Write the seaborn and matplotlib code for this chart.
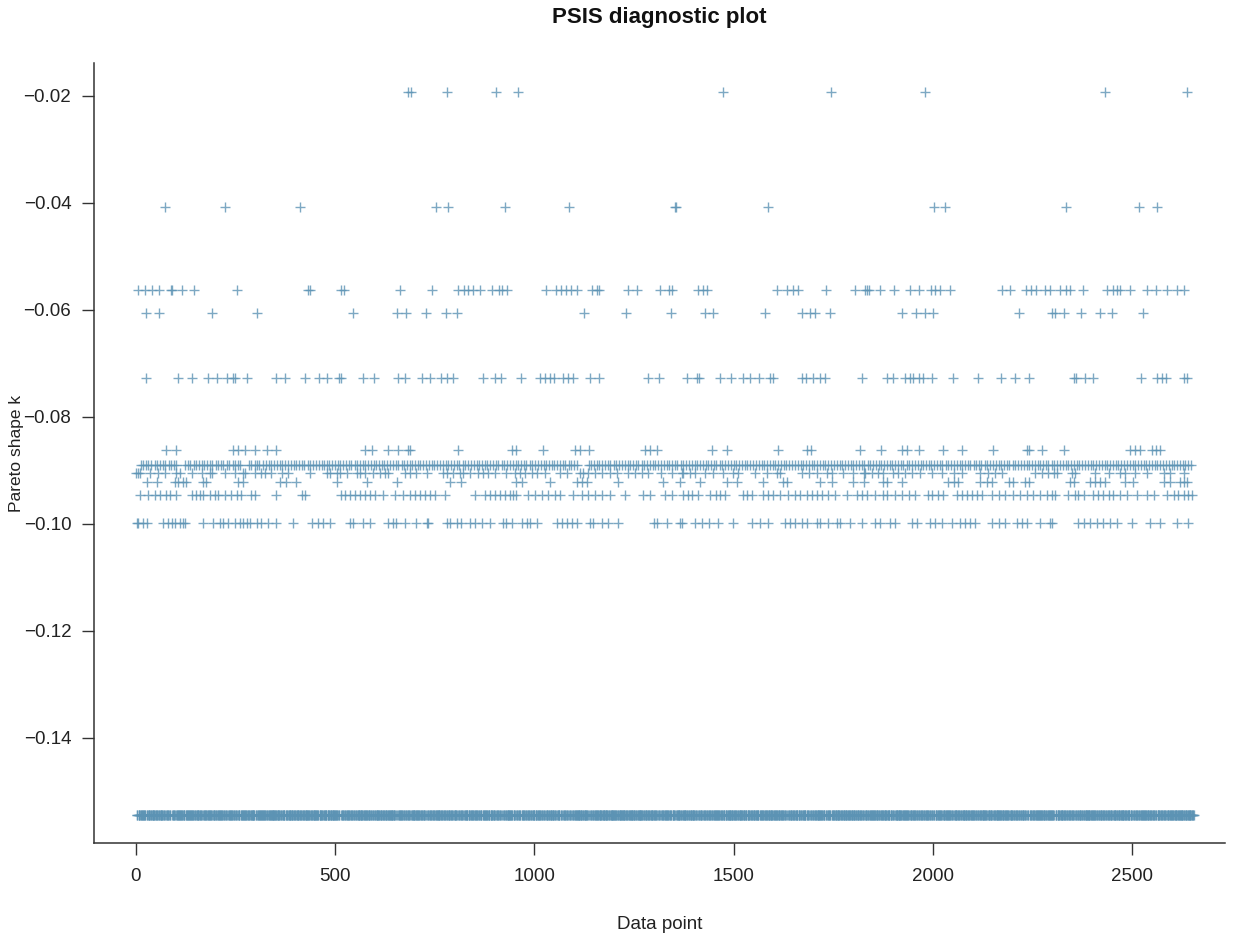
import numpy as np
import pandas as pd
import matplotlib
matplotlib.use("Agg")
import matplotlib.pyplot as plt
import seaborn as sns

# number of observations (x axis = data point index)
n_points = 2654

# Pareto k-hat levels
k_levels = [-0.0194, -0.0409, -0.0564, -0.0606, -0.0727, -0.0862,
            -0.0890, -0.0906, -0.0923, -0.0946, -0.0998]
k_lowest = -0.1544

# data point positions for each k level (everything else sits at k_lowest)
pts_0194 = [683, 690, 780, 903, 958, 1474, 1744, 1979, 2432, 2637]
pts_0409 = [73, 225, 413, 752, 784, 926, 1088, 1352, 1356, 1587, 2004, 2031,
            2333, 2516, 2562]
pts_0564 = [6, 23, 41, 58, 88, 92, 117, 146, 255, 431, 437, 514, 523, 664, 743,
            809, 823, 834, 846, 863, 893, 912, 920, 931, 1028, 1054, 1066, 1079,
            1092, 1106, 1144, 1157, 1162, 1236, 1257, 1315, 1339, 1345, 1411,
            1424, 1434, 1608, 1635, 1648, 1662, 1732, 1805, 1830, 1834, 1840,
            1867, 1903, 1943, 1964, 1996, 2006, 2018, 2043, 2173, 2194, 2234,
            2246, 2259, 2282, 2294, 2319, 2334, 2344, 2376, 2436, 2453, 2461,
            2470, 2495, 2537, 2560, 2587, 2612, 2629]
pts_0606 = [25, 58, 192, 305, 544, 656, 679, 728, 778, 805, 1125, 1229, 1342,
            1428, 1449, 1579, 1671, 1692, 1704, 1742, 1922, 1958, 1980, 2001,
            2217, 2298, 2306, 2328, 2372, 2420, 2449, 2527]
pts_0727 = [25, 106, 140, 181, 203, 228, 244, 248, 280, 353, 374, 424, 460, 479,
            510, 514, 571, 597, 658, 675, 717, 738, 767, 780, 795, 872, 901, 916,
            966, 1014, 1027, 1039, 1050, 1073, 1085, 1098, 1140, 1162, 1286,
            1313, 1382, 1407, 1414, 1466, 1493, 1524, 1541, 1564, 1591, 1600,
            1671, 1682, 1700, 1717, 1729, 1822, 1884, 1901, 1930, 1943, 1951,
            1964, 1976, 1997, 2051, 2114, 2171, 2205, 2242, 2353, 2359, 2382,
            2403, 2522, 2562, 2574, 2585, 2629, 2637]
pts_0862 = [75, 102, 244, 257, 274, 300, 328, 353, 575, 592, 633, 658, 683, 688,
            809, 943, 953, 1022, 1102, 1114, 1137, 1278, 1290, 1309, 1447, 1483,
            1612, 1683, 1693, 1817, 1871, 1922, 1934, 1964, 2026, 2072, 2152,
            2235, 2240, 2273, 2328, 2495, 2507, 2520, 2549, 2560, 2570]
pts_0890 = [12, 18, 26, 31, 39, 47, 52, 60, 67, 74, 83, 89, 96, 101, 124, 131,
            136, 145, 150, 158, 166, 171, 179, 186, 192, 200, 207, 214, 220, 229,
            235, 243, 250, 257, 262, 284, 290, 298, 305, 310, 318, 327, 333, 340,
            346, 355, 361, 368, 375, 381, 389, 396, 402, 410, 417, 423, 431, 438,
            444, 452, 459, 466, 472, 480, 485, 493, 500, 507, 513, 521, 528, 534,
            541, 549, 556, 562, 569, 575, 583, 590, 597, 603, 611, 618, 624, 631,
            638, 646, 652, 659, 667, 672, 680, 687, 694, 700, 708, 714, 721, 729,
            735, 742, 749, 757, 763, 770, 778, 784, 791, 799, 806, 812, 820, 827,
            833, 841, 848, 855, 861, 869, 876, 882, 889, 897, 904, 910, 918, 925,
            931, 939, 946, 953, 959, 967, 974, 980, 988, 995, 1001, 1009, 1016,
            1023, 1029, 1037, 1044, 1050, 1058, 1065, 1072, 1078, 1086, 1093,
            1100, 1106, 1136, 1142, 1150, 1157, 1163, 1171, 1178, 1185, 1191,
            1199, 1206, 1212, 1220, 1227, 1234, 1240, 1248, 1255, 1261, 1269,
            1276, 1283, 1289, 1297, 1304, 1310, 1318, 1325, 1332, 1338, 1346,
            1353, 1359, 1367, 1374, 1381, 1387, 1395, 1402, 1408, 1416, 1423,
            1430, 1436, 1444, 1451, 1457, 1465, 1472, 1479, 1485, 1493, 1500,
            1506, 1514, 1521, 1528, 1534, 1542, 1549, 1555, 1563, 1570, 1577,
            1583, 1591, 1598, 1604, 1612, 1619, 1626, 1632, 1640, 1647, 1653,
            1661, 1668, 1675, 1681, 1689, 1696, 1702, 1710, 1717, 1724, 1730,
            1738, 1745, 1751, 1759, 1766, 1773, 1779, 1787, 1794, 1800, 1808,
            1815, 1822, 1828, 1836, 1843, 1849, 1857, 1864, 1871, 1877, 1885,
            1892, 1898, 1906, 1913, 1920, 1926, 1934, 1941, 1947, 1955, 1962,
            1969, 1975, 1983, 1990, 1996, 2004, 2011, 2018, 2024, 2032, 2039,
            2045, 2053, 2060, 2067, 2073, 2081, 2088, 2094, 2102, 2109, 2116,
            2122, 2130, 2137, 2143, 2151, 2158, 2165, 2171, 2179, 2186, 2192,
            2200, 2207, 2214, 2220, 2228, 2235, 2241, 2249, 2256, 2263, 2269,
            2277, 2284, 2290, 2298, 2305, 2312, 2318, 2326, 2333, 2339, 2347,
            2354, 2361, 2367, 2375, 2382, 2388, 2396, 2403, 2410, 2416, 2424,
            2431, 2437, 2445, 2452, 2459, 2465, 2473, 2480, 2486, 2494, 2501,
            2508, 2514, 2522, 2529, 2535, 2543, 2550, 2557, 2563, 2571, 2578,
            2584, 2592, 2599, 2606, 2612, 2620, 2627, 2633, 2641, 2648]
pts_0906 = [1, 5, 10, 35, 56, 73, 102, 110, 140, 165, 186, 190, 223, 248, 269,
            274, 299, 315, 324, 340, 366, 382, 437, 479, 487, 504, 512, 529, 554,
            562, 575, 596, 612, 625, 633, 675, 688, 704, 730, 771, 780, 797, 813,
            822, 838, 859, 872, 884, 901, 930, 951, 964, 976, 993, 1006, 1027,
            1064, 1081, 1114, 1123, 1135, 1152, 1169, 1190, 1207, 1236, 1253,
            1269, 1286, 1319, 1345, 1370, 1374, 1391, 1403, 1428, 1449, 1474,
            1499, 1512, 1554, 1583, 1608, 1616, 1671, 1688, 1708, 1734, 1746,
            1775, 1800, 1826, 1830, 1847, 1863, 1876, 1901, 1913, 1930, 1947,
            1968, 1997, 2022, 2052, 2072, 2118, 2139, 2156, 2173, 2257, 2273,
            2290, 2303, 2311, 2349, 2357, 2407, 2441, 2470, 2482, 2507, 2537,
            2579, 2595, 2629]
pts_0923 = [27, 52, 98, 106, 119, 127, 169, 177, 257, 269, 362, 378, 403, 504,
            579, 656, 788, 817, 953, 968, 1039, 1106, 1119, 1131, 1211, 1324,
            1365, 1416, 1483, 1508, 1575, 1625, 1633, 1717, 1746, 1800, 1826,
            1876, 1884, 1922, 2039, 2052, 2064, 2118, 2135, 2148, 2190, 2202,
            2231, 2240, 2344, 2353, 2395, 2407, 2420, 2432, 2482, 2503, 2579,
            2595, 2620, 2629, 2637]
pts_0946 = [10, 31, 48, 60, 77, 85, 102, 140, 152, 161, 169, 186, 198, 207, 223,
            240, 253, 265, 290, 299, 353, 416, 424, 516, 525, 537, 550, 562, 575,
            587, 600, 621, 650, 671, 688, 700, 713, 725, 738, 750, 775, 851, 876,
            888, 901, 914, 926, 939, 947, 955, 985, 1002, 1018, 1035, 1052, 1064,
            1098, 1119, 1135, 1152, 1169, 1190, 1227, 1273, 1290, 1328, 1345,
            1374, 1386, 1395, 1411, 1441, 1457, 1466, 1478, 1524, 1533, 1545,
            1575, 1587, 1600, 1616, 1637, 1654, 1667, 1683, 1696, 1708, 1721,
            1738, 1754, 1784, 1809, 1821, 1834, 1855, 1876, 1884, 1905, 1922,
            1939, 1955, 1989, 1997, 2014, 2026, 2060, 2072, 2085, 2098, 2110,
            2123, 2148, 2165, 2181, 2202, 2219, 2236, 2252, 2269, 2286, 2298,
            2307, 2340, 2357, 2365, 2378, 2403, 2415, 2428, 2441, 2453, 2470,
            2487, 2512, 2537, 2554, 2587, 2604, 2616, 2629, 2641, 2650]
pts_0998 = [3, 6, 18, 27, 69, 81, 90, 98, 110, 119, 123, 169, 194, 211, 219, 232,
            248, 261, 269, 278, 286, 303, 315, 332, 353, 395, 441, 458, 469, 487,
            537, 545, 571, 587, 633, 646, 654, 675, 704, 730, 734, 780, 788, 805,
            817, 838, 851, 868, 889, 922, 930, 943, 968, 981, 989, 1006, 1056,
            1069, 1081, 1094, 1106, 1140, 1148, 1169, 1186, 1211, 1299, 1307,
            1332, 1365, 1370, 1403, 1420, 1437, 1462, 1499, 1545, 1566, 1587,
            1629, 1642, 1654, 1671, 1683, 1708, 1717, 1738, 1759, 1767, 1792,
            1821, 1855, 1867, 1893, 1905, 1947, 1960, 1993, 2005, 2022, 2047,
            2068, 2081, 2093, 2106, 2148, 2165, 2181, 2210, 2223, 2236, 2269,
            2294, 2298, 2365, 2378, 2395, 2411, 2428, 2445, 2461, 2499, 2545,
            2570, 2612, 2641]

x_ticks = [0, 500, 1000, 1500, 2000, 2500]
y_ticks = [-0.14, -0.12, -0.10, -0.08, -0.06, -0.04, -0.02]

level_points = [pts_0194, pts_0409, pts_0564, pts_0606, pts_0727, pts_0862,
                pts_0890, pts_0906, pts_0923, pts_0946, pts_0998]

frames = []
for lev, pts in zip(k_levels, level_points):
    frames.append(pd.DataFrame({"point": pts, "k": lev}))
used = set(p for pts in level_points for p in pts)
rest = [i for i in range(1, n_points + 1) if i not in used]
frames.append(pd.DataFrame({"point": rest, "k": k_lowest}))
df = pd.concat(frames, ignore_index=True)

sns.set_theme(style="ticks")
plt.rcParams["font.family"] = ["Liberation Sans", "DejaVu Sans"]

fig = plt.figure(figsize=(12.38, 9.44), dpi=100)
ax = fig.add_axes([0.0759, 0.107, 0.9136, 0.8263])

sns.scatterplot(data=df, x="point", y="k", marker="+", s=42, linewidth=1.0,
                color="#5c93b4", alpha=0.8, legend=False, ax=ax)

ax.set_xlim(-105, 2733)
ax.set_ylim(-0.1597, -0.0139)
ax.set_xticks(x_ticks)
ax.set_yticks(y_ticks)
ax.set_yticklabels([f"\u2212{abs(v):.2f}" for v in y_ticks])

for side in ["top", "right"]:
    ax.spines[side].set_visible(False)
for side in ["left", "bottom"]:
    ax.spines[side].set_color("#333333")
    ax.spines[side].set_linewidth(1.1)

ax.tick_params(axis="both", direction="out", length=8.3, width=1.0,
               color="#333333", labelsize=13.5, labelcolor="#222222")
ax.tick_params(axis="y", pad=8)
ax.tick_params(axis="x", pad=9.5)

ax.set_title("PSIS diagnostic plot", fontsize=16, fontweight="bold", pad=29,
             color="#111111")
ax.set_xlabel("Data point", fontsize=13.5, color="#222222")
ax.set_ylabel("Pareto shape k", fontsize=12.5, color="#222222")
ax.xaxis.set_label_coords(0.5, -0.093)
ax.yaxis.set_label_coords(-0.062, 0.5)

fig.savefig("out.png", dpi=100)
plt.close(fig)
